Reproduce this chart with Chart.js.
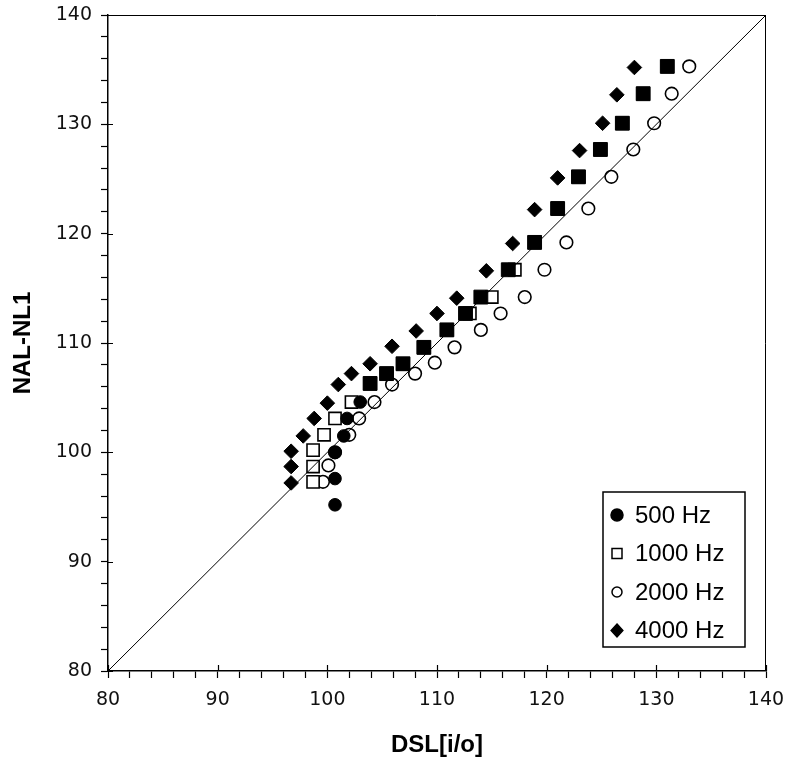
<!DOCTYPE html>
<html>
<head>
<meta charset="utf-8">
<title>NAL-NL1 vs DSL[i/o]</title>
<script src="https://cdn.jsdelivr.net/npm/chart.js@4.4.1/dist/chart.umd.min.js"></script>
<style>
  html, body { margin: 0; padding: 0; background: #fff; }
  #wrap { width: 785px; height: 764px; }
</style>
</head>
<body>
<div id="wrap"><canvas id="scatterChart" width="785" height="764"></canvas></div>
<script>
// series names (legend)
var seriesNames = ['500 Hz', '1000 Hz', '2000 Hz', '4000 Hz'];

// DSL[i/o] (x) and NAL-NL1 (y) per frequency
var dsl500  = [100.7, 100.7, 100.7, 101.5, 101.8, 103.0, 103.9, 105.4, 106.9, 108.8, 110.9, 112.6, 114.0, 116.5, 118.9, 121.0, 122.9, 124.9, 126.9, 128.8, 131.0];
var nal500  = [95.2, 97.6, 100.0, 101.5, 103.1, 104.6, 106.3, 107.2, 108.1, 109.6, 111.2, 112.7, 114.2, 116.7, 119.2, 122.3, 125.2, 127.7, 130.1, 132.8, 135.3];

var dsl1000 = [98.7, 98.7, 98.7, 99.7, 100.7, 102.2, 103.9, 105.4, 106.9, 108.8, 110.9, 113.0, 115.0, 117.1, 118.9, 121.0, 122.9, 124.9, 126.9, 128.8, 131.0];
var nal1000 = [97.3, 98.7, 100.2, 101.6, 103.1, 104.6, 106.3, 107.2, 108.1, 109.6, 111.2, 112.7, 114.2, 116.7, 119.2, 122.3, 125.2, 127.7, 130.1, 132.8, 135.3];

var dsl2000 = [99.6, 100.1, 100.7, 102.0, 102.9, 104.3, 105.9, 108.0, 109.8, 111.6, 114.0, 115.8, 118.0, 119.8, 121.8, 123.8, 125.9, 127.9, 129.8, 131.4, 133.0];
var nal2000 = [97.3, 98.8, 100.0, 101.6, 103.1, 104.6, 106.2, 107.2, 108.2, 109.6, 111.2, 112.7, 114.2, 116.7, 119.2, 122.3, 125.2, 127.7, 130.1, 132.8, 135.3];

var dsl4000 = [96.7, 96.7, 96.7, 97.8, 98.8, 100.0, 101.0, 102.2, 103.9, 105.9, 108.1, 110.0, 111.8, 114.5, 116.9, 118.9, 121.0, 123.0, 125.1, 126.4, 128.0];
var nal4000 = [97.2, 98.7, 100.1, 101.5, 103.1, 104.5, 106.2, 107.2, 108.1, 109.7, 111.1, 112.7, 114.1, 116.6, 119.1, 122.2, 125.1, 127.6, 130.1, 132.7, 135.2];

// axis range and labelled ticks
var axisMin = 80, axisMax = 140;
var majorTicks = [80, 90, 100, 110, 120, 130, 140];

function toPoints(xs, ys) {
  var pts = [];
  for (var i = 0; i < xs.length; i++) pts.push({x: xs[i], y: ys[i]});
  return pts;
}

function drawMark(ctx, style, x, y, r, filled) {
  ctx.beginPath();
  if (style === 'circle') {
    ctx.arc(x, y, r, 0, Math.PI * 2);
  } else if (style === 'rect') {
    ctx.rect(x - r, y - r, 2 * r, 2 * r);
  } else {
    ctx.moveTo(x, y - r); ctx.lineTo(x + r * 0.9, y); ctx.lineTo(x, y + r); ctx.lineTo(x - r * 0.9, y);
    ctx.closePath();
  }
  ctx.fillStyle = filled ? '#000' : '#fff';
  ctx.fill();
  ctx.lineWidth = 1.5;
  ctx.strokeStyle = '#000';
  ctx.stroke();
}

// frame on top/right + major ticks crossing into the plot
var frameTicks = {
  id: 'frameTicks',
  afterDraw: function (chart) {
    var ctx = chart.ctx, a = chart.chartArea;
    var xs = chart.scales.x, ys = chart.scales.y;
    ctx.save();
    ctx.strokeStyle = '#000';
    ctx.lineWidth = 1;
    ctx.beginPath();
    ctx.moveTo(a.left, a.top + 0.5);
    ctx.lineTo(a.right - 0.5, a.top + 0.5);
    ctx.lineTo(a.right - 0.5, a.bottom);
    ctx.stroke();
    ctx.lineWidth = 1.2;
    ctx.beginPath();
    majorTicks.forEach(function (v) {
      var px = Math.round(xs.getPixelForValue(v)) + 0.5;
      ctx.moveTo(px, a.bottom);
      ctx.lineTo(px, a.bottom - 6);
      var py = Math.round(ys.getPixelForValue(v)) + 0.5;
      ctx.moveTo(a.left, py);
      ctx.lineTo(a.left + 5, py);
    });
    ctx.stroke();
    ctx.restore();
  }
};

// boxed legend inside the plot, lower right
var legendMarks = [
  {style: 'circle', r: 6, filled: true},
  {style: 'rect', r: 5, filled: false},
  {style: 'circle', r: 5, filled: false},
  {style: 'diamond', r: 6.5, filled: true}
];
var insetLegend = {
  id: 'insetLegend',
  afterDraw: function (chart) {
    var ctx = chart.ctx, a = chart.chartArea;
    var w = 142, h = 155;
    var left = a.right - 21 - w, top = a.bottom - 24 - h;
    ctx.save();
    ctx.fillStyle = '#fff';
    ctx.fillRect(left, top, w, h);
    ctx.lineWidth = 1.5;
    ctx.strokeStyle = '#000';
    ctx.strokeRect(left, top, w, h);
    ctx.font = '24px "Liberation Sans", Arial, sans-serif';
    ctx.textBaseline = 'middle';
    for (var i = 0; i < seriesNames.length; i++) {
      var y = top + 23 + i * 38.5;
      var m = legendMarks[i];
      drawMark(ctx, m.style, left + 14, y, m.r, m.filled);
      ctx.fillStyle = '#000';
      ctx.fillText(seriesNames[i], left + 32, y + 1);
    }
    ctx.restore();
  }
};

var tickFont = {family: '"DejaVu Sans", sans-serif', size: 19};
var titleFont = {family: '"Liberation Sans", Arial, sans-serif', size: 24, weight: 'bold', lineHeight: 1};

var scatterData = {
  datasets: [
    {
      label: 'y = x',
      type: 'line',
      data: [{x: axisMin, y: axisMin}, {x: axisMax, y: axisMax}],
      borderColor: '#000',
      borderWidth: 1,
      pointRadius: 0,
      fill: false
    },
    {
      label: seriesNames[0],
      data: toPoints(dsl500, nal500),
      pointStyle: function (c) { return c.dataIndex < 6 ? 'circle' : 'rect'; },
      pointRadius: function (c) { return c.dataIndex < 6 ? 6.3 : 9.8; },
      backgroundColor: '#000',
      borderColor: '#000',
      borderWidth: 1
    },
    {
      label: seriesNames[1],
      data: toPoints(dsl1000, nal1000),
      pointStyle: 'rect',
      pointRadius: 8.6,
      backgroundColor: '#fff',
      borderColor: '#000',
      borderWidth: 1.6
    },
    {
      label: seriesNames[2],
      data: toPoints(dsl2000, nal2000),
      pointStyle: 'circle',
      pointRadius: 6.3,
      backgroundColor: '#fff',
      borderColor: '#000',
      borderWidth: 1.6
    },
    {
      label: seriesNames[3],
      data: toPoints(dsl4000, nal4000),
      pointStyle: 'rectRot',
      pointRadius: 7.3,
      backgroundColor: '#000',
      borderColor: '#000',
      borderWidth: 1
    }
  ]
};

var scatterOptions = {
  responsive: false,
  animation: false,
  layout: {padding: {top: 15, right: 19, left: 0, bottom: 0}},
  plugins: {
    legend: {display: false},
    tooltip: {enabled: false}
  },
  scales: {
    x: {
      type: 'linear',
      min: axisMin,
      max: axisMax,
      afterFit: function (s) { s.height = 93; s.paddingLeft = 0; s.paddingRight = 0; },
      ticks: {
        stepSize: 2, autoSkip: false, maxRotation: 0, padding: 11,
        color: '#111', font: tickFont,
        callback: function (v) { return v % 10 === 0 ? v : ''; }
      },
      grid: {drawOnChartArea: false, tickLength: 7, color: '#000', tickWidth: 1.2},
      border: {color: '#000', width: 1.5},
      title: {display: true, text: 'DSL[i/o]', color: '#000', font: titleFont, padding: {top: 0, bottom: 7}}
    },
    y: {
      type: 'linear',
      min: axisMin,
      max: axisMax,
      afterFit: function (s) { s.width = 108; s.paddingTop = 0; s.paddingBottom = 0; },
      ticks: {
        stepSize: 2, autoSkip: false, padding: 9,
        color: '#111', font: tickFont,
        callback: function (v) { return v % 10 === 0 ? v : ''; }
      },
      grid: {drawOnChartArea: false, tickLength: 7, color: '#000', tickWidth: 1.2},
      border: {color: '#000', width: 1.5},
      title: {display: true, text: 'NAL-NL1', color: '#000', font: titleFont, padding: {top: 11, bottom: 0}}
    }
  }
};

var scatterCanvas = document.getElementById('scatterChart').getContext('2d');
var scatterChart = new Chart(scatterCanvas, {
  type: 'scatter',
  data: scatterData,
  options: scatterOptions,
  plugins: [frameTicks, insetLegend]
});
</script>
</body>
</html>
